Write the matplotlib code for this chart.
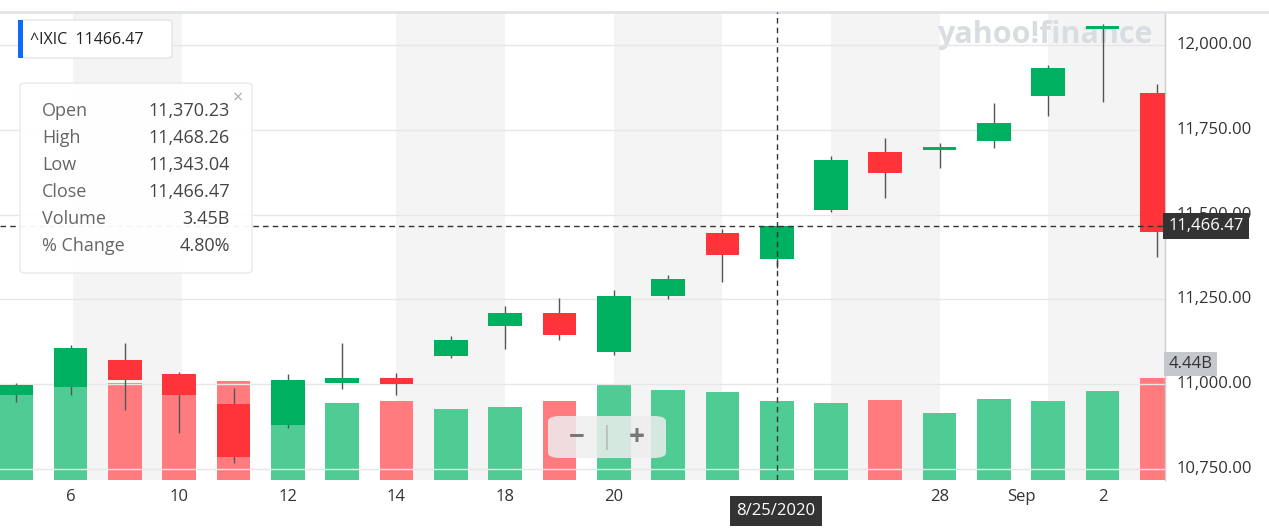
import matplotlib
matplotlib.use("Agg")
import matplotlib.pyplot as plt
from matplotlib.patches import FancyBboxPatch, Rectangle

plt.rcParams['font.family'] = ['Open Sans', 'DejaVu Sans']

dates = ["Aug 5","Aug 6","Aug 7","Aug 10","Aug 11","Aug 12","Aug 13","Aug 14","Aug 17","Aug 18","Aug 19",
         "Aug 20","Aug 21","Aug 24","Aug 25","Aug 26","Aug 27","Aug 28","Aug 31","Sep 1","Sep 2","Sep 3"]
opens  = [10968,10992,11071,11030,10942,10880,11003,11018,11083,11172,11210,11095,11260,11446,11370.23,11514,11685,11690,11717,11850,12047,11858]
closes = [10998,11107,11012,10968,10785,11012,11018,11000,11130,11210,11145,11260,11310,11381,11466.47,11661,11623,11700,11770,11932,12056,11449]
highs  = [11004,11116,11121,11036,10989,11030,11121,11033,11142,11230,11254,11278,11322,11458,11468.26,11672,11726,11710,11830,11940,12063,11884]
lows   = [10948,10968,10924,10856,10768,10871,10986,10968,11076,11104,11130,11086,11251,11300,11343.04,11508,11549,11637,11697,11790,11832,11374]
volumes = [4.18,4.18,4.22,4.18,4.30,3.67,3.37,3.45,3.10,3.19,3.45,4.18,3.93,3.84,3.45,3.37,3.50,2.93,3.54,3.45,3.88,4.44]
vol_up = [True,True,False,False,False,True,True,False,True,True,False,True,True,True,True,True,False,True,True,True,True,False]
tick_pos = [1,3,5,7,9,11,17,18.5,20]
tick_labels = ["6","10","12","14","18","20","28","Sep","2"]
yticks = [10750,11000,11250,11500,11750,12000]

G, R = "#00b061", "#ff333a"
GV, RV = "#4fcb94", "#ff7b7e"

fig = plt.figure(figsize=(12.69,5.31), dpi=100, facecolor="white")
ax = fig.add_axes([0, 1-480/531, 1165/1269, 468/531])
vax = ax.twinx()
ax.set_zorder(2); ax.patch.set_visible(False)
vax.set_zorder(1); vax.patch.set_visible(False)

# watermark (above bands, below candles)
fig.text(1045/1269, 1-35/531, "yahoo!finance", ha="center", va="center", fontsize=22,
         fontweight="bold", color="#d9dde2", zorder=1.5)

n = len(dates)
x = list(range(n))
for a,b in [(1.05,3.05),(7,9),(11,13),(15,17),(19,21.6)]:
    vax.axvspan(a, b, color="#f4f4f4", zorder=0, lw=0)
vax.bar(x, volumes, width=0.62, color=[GV if u else RV for u in vol_up], zorder=2)
vax.set_ylim(0, 4.44*468/102)
vax.set_yticks([])

for i in x:
    up = closes[i] >= opens[i]
    c = G if up else R
    ax.vlines(i, lows[i], highs[i], color="#555555", lw=1, zorder=3)
    lo, hi = min(opens[i], closes[i]), max(opens[i], closes[i])
    ax.bar(i, max(hi-lo, 4), bottom=lo, width=0.62, color=c, zorder=4)

ax.set_xlim(-0.3, 21.15)
ax.set_ylim(12000 - (480-45)/0.3392*1, 12000 + (45-12)/0.3392)
ax.set_yticks([]); ax.set_xticks([])
for s in ax.spines.values(): s.set_visible(False)
for s in vax.spines.values(): s.set_visible(False)
for yv in yticks:
    ax.axhline(yv, color="#e6e6e6", lw=1, zorder=1)
    ax.text(1.01, yv, f"{yv:,.2f}", transform=ax.get_yaxis_transform(), va="center", ha="left",
            fontsize=12, color="#333333")
for p, l in zip(tick_pos, tick_labels):
    ax.text(p, -0.02, l, transform=ax.get_xaxis_transform(), ha="center", va="top", fontsize=12, color="#333333")
ax.plot([1, 1], [0, 1], transform=ax.transAxes, color="#cccccc", lw=1, clip_on=False)
ax.plot([0, 1.1], [1, 1], transform=ax.transAxes, color="#e0e4e8", lw=2, clip_on=False)

# crosshair
ax.axvline(14, color="#333333", ls=(0,(4,3)), lw=1, zorder=6)
ax.axhline(11466.47, color="#333333", ls=(0,(4,3)), lw=1, zorder=6)
ax.text(1.003, 11466.47, "11,466.47", transform=ax.get_yaxis_transform(), va="center", ha="left",
        fontsize=12, color="white", zorder=7, bbox=dict(boxstyle="square,pad=0.3", fc="#333333", ec="none"))
ax.text(1.003, 11060, "4.44B", transform=ax.get_yaxis_transform(), va="center", ha="left",
        fontsize=12, color="#333333", bbox=dict(boxstyle="square,pad=0.25", fc="#c4c7cc", ec="none"))
fig.text(776/1269, 1-511/531, "8/25/2020", ha="center", va="center", fontsize=12, color="white",
         bbox=dict(boxstyle="square,pad=0.4", fc="#333333", ec="none"))

# legend box
fig.patches.append(FancyBboxPatch((20/1269, 1-58/531), 152/1269, 38/531, boxstyle="round,pad=0,rounding_size=0.005",
                   transform=fig.transFigure, fc="white", ec="#e5e5e5", zorder=8))
fig.patches.append(Rectangle((18/1269, 1-58/531), 5/1269, 38/531, transform=fig.transFigure, fc="#0f69ff", zorder=9))
fig.text(30/1269, 1-40/531, "^IXIC  11466.47", fontsize=11.5, va="center", color="#222222", zorder=10)

# tooltip
fig.patches.append(FancyBboxPatch((20/1269, 1-273/531), 232/1269, 190/531, boxstyle="round,pad=0,rounding_size=0.005",
                   transform=fig.transFigure, fc="white", ec="#e8e8e8", alpha=0.95, zorder=8))
rows = [("Open","11,370.23"),("High","11,468.26"),("Low","11,343.04"),("Close","11,466.47"),("Volume","3.45B"),("% Change","4.80%")]
for k,(a,b) in enumerate(rows):
    yy = 1-(111+27*k)/531
    fig.text(42/1269, yy, a, fontsize=13, va="center", color="#666666", zorder=10)
    fig.text(230/1269, yy, b, fontsize=13, va="center", ha="right", color="#444444", zorder=10)
fig.text(238/1269, 1-98/531, "×", fontsize=13, va="center", ha="center", color="#aaaaaa", zorder=10)

# zoom control
fig.patches.append(FancyBboxPatch((548/1269, 1-458/531), 118/1269, 42/531, boxstyle="round,pad=0,rounding_size=0.01",
                   transform=fig.transFigure, fc="#eeeeee", ec="none", alpha=0.85, zorder=8))
fig.text(577/1269, 1-437/531, "−", fontsize=20, ha="center", va="center", color="#777777", fontweight="bold", zorder=10)
fig.text(637/1269, 1-437/531, "+", fontsize=20, ha="center", va="center", color="#777777", fontweight="bold", zorder=10)
fig.text(607/1269, 1-437/531, "|", fontsize=18, ha="center", va="center", color="#bbbbbb", zorder=10)

fig.savefig("out.png", dpi=100, facecolor="white")
